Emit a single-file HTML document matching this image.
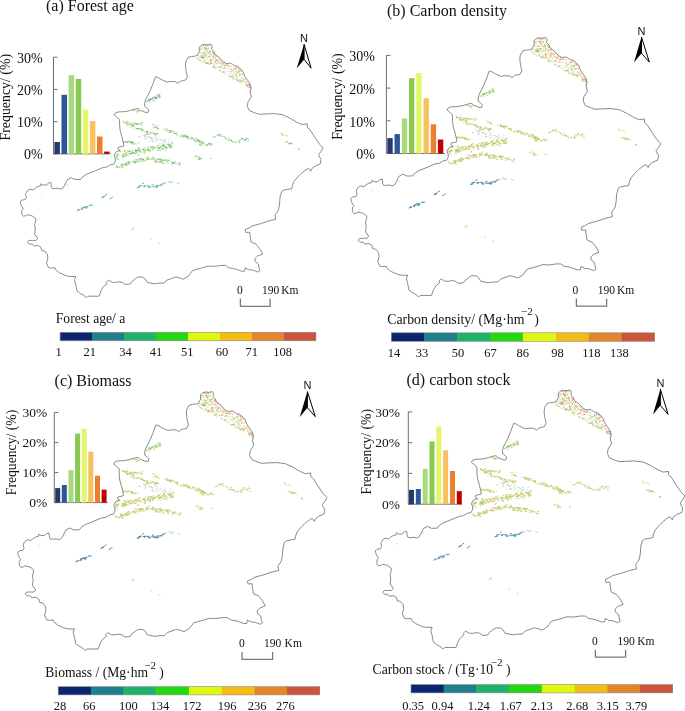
<!DOCTYPE html>
<html><head><meta charset="utf-8"><style>
html,body{margin:0;padding:0;background:#fff;}
svg{display:block;will-change:transform;}
text{font-family:"Liberation Serif",serif;fill:#111;}
</style></head><body>
<svg width="685" height="711" viewBox="0 0 685 711">
<rect width="685" height="711" fill="#fff"/>
<defs><path id="ol" d="M199.3 47.3 L201.6 45.0 L204.5 44.4 L207.4 44.8 L210.9 44.1 L212.1 46.2 L211.5 49.1 L213.9 51.4 L215.0 54.4 L217.4 56.1 L220.3 58.4 L223.2 61.9 L226.7 63.7 L230.2 63.1 L232.6 64.3 L234.9 66.0 L237.2 66.0 L240.7 68.9 L243.1 71.9 L244.8 76.5 L247.7 80.6 L250.1 84.1 L251.2 88.2 L250.1 91.7 L251.4 96.8 L248.0 101.9 L247.3 106.3 L249.5 110.7 L254.6 112.8 L259.0 114.3 L266.3 113.9 L273.6 113.6 L282.3 114.6 L289.6 118.0 L296.9 122.3 L302.0 124.5 L307.2 123.8 L307.4 127.4 L310.0 129.6 L314.5 136.9 L319.6 144.2 L323.2 147.9 L321.0 151.5 L318.8 154.5 L318.8 155.8 L321.0 159.5 L320.3 163.9 L315.2 166.1 L311.5 169.0 L310.8 171.2 L308.6 168.2 L305.0 170.4 L301.3 173.4 L297.7 177.0 L294.0 181.4 L292.3 185.8 L291.8 188.7 L283.8 190.1 L281.6 191.6 L280.1 196.7 L279.4 205.5 L278.2 210.6 L275.0 215.0 L275.8 219.3 L269.2 220.8 L260.4 223.7 L252.4 225.9 L248.8 228.1 L245.2 229.6 L245.9 232.5 L249.6 232.2 L250.3 236.9 L251.0 242.0 L256.1 244.2 L259.8 248.6 L262.7 254.1 L257.6 255.9 L254.7 258.8 L255.4 261.7 L258.3 263.9 L259.1 268.3 L259.8 270.5 L257.6 272.0 L253.2 270.2 L248.8 269.7 L245.2 267.8 L244.5 271.2 L241.5 271.2 L235.7 269.0 L228.4 267.6 L225.5 265.4 L221.1 265.4 L213.8 266.4 L208.0 266.1 L200.7 268.3 L192.6 270.5 L190.4 273.4 L188.2 276.3 L183.1 279.2 L179.5 277.8 L175.8 277.0 L174.9 277.2 L166.9 280.1 L163.9 283.1 L159.6 283.1 L154.5 283.8 L147.2 282.3 L145.0 278.7 L142.8 277.2 L138.4 276.9 L135.5 278.7 L131.8 281.6 L130.4 283.8 L125.3 284.5 L122.3 282.3 L118.7 281.6 L116.5 282.3 L112.1 282.3 L108.5 280.1 L106.3 282.3 L107.0 283.8 L103.4 286.7 L101.2 290.4 L99.0 296.2 L93.1 296.2 L88.0 296.2 L86.6 297.7 L82.9 294.7 L80.0 293.3 L77.0 291.0 L75.8 284.7 L74.5 279.6 L75.8 276.5 L70.7 276.5 L66.3 275.8 L59.3 272.7 L55.5 269.5 L54.9 267.6 L51.7 268.2 L48.5 267.6 L46.6 263.2 L47.9 258.1 L47.3 254.3 L44.7 251.1 L41.6 250.5 L40.9 247.3 L37.8 245.4 L34.0 246.1 L32.7 244.4 L28.9 243.9 L27.4 242.3 L28.9 240.4 L32.7 240.4 L35.9 240.4 L37.8 238.5 L34.6 234.0 L35.3 229.0 L34.6 225.0 L36.0 218.9 L33.4 216.7 L30.8 215.4 L27.3 214.8 L25.5 215.8 L23.3 216.2 L21.6 214.0 L22.0 210.1 L23.3 208.4 L22.0 207.0 L20.7 204.4 L20.3 201.3 L22.0 200.0 L25.1 199.6 L26.4 197.4 L25.5 194.3 L26.4 192.2 L28.1 190.0 L30.3 189.1 L33.0 190.0 L35.1 188.2 L37.8 186.5 L40.4 186.0 L40.8 183.8 L43.0 185.1 L46.1 185.1 L48.7 183.0 L50.9 182.5 L51.3 186.5 L52.2 188.6 L55.3 188.6 L57.9 188.2 L60.5 189.1 L62.7 188.2 L64.9 185.1 L65.8 182.5 L67.6 179.5 L71.1 177.7 L75.0 179.5 L80.7 179.4 L82.2 177.2 L86.5 174.3 L93.8 171.4 L102.6 167.7 L106.7 167.1 L110.2 164.8 L113.7 164.2 L115.4 161.3 L115.4 158.4 L114.3 155.4 L114.9 153.7 L116.6 151.4 L120.1 150.5 L117.8 148.7 L118.4 147.3 L123.6 146.1 L123.7 144.9 L123.1 141.4 L121.9 136.7 L120.2 130.9 L119.6 125.0 L119.6 119.8 L116.7 116.9 L114.3 115.1 L114.9 113.4 L117.8 112.0 L124.9 111.6 L130.7 110.4 L135.4 108.9 L138.3 108.5 L140.3 110.5 L142.9 111.4 L146.4 112.7 L148.1 112.3 L148.6 109.7 L146.8 107.9 L144.6 106.2 L144.6 103.5 L145.5 100.0 L147.3 96.5 L149.9 91.3 L152.5 85.1 L154.7 79.0 L155.6 76.8 L157.8 77.3 L160.4 79.0 L163.9 80.8 L167.4 82.1 L170.9 81.5 L175.3 81.6 L177.9 83.4 L180.5 81.2 L182.7 80.8 L185.8 79.9 L187.4 76.4 L186.7 73.8 L185.8 69.4 L185.4 65.0 L185.8 61.4 L188.2 57.3 L191.7 56.5 L195.2 56.1 L197.5 54.9 L199.3 51.4 Z"/><clipPath id="clipol"><use href="#ol"/></clipPath><path id="sT0" d="M124.6 122.7l0.9 0.2M134.1 123.0l0.9 0.1M134.5 123.9l1.7 0.2M138.4 123.8l1.8 -0.4M126.9 125.1l1.4 0.6M130.1 127.3l1.0 0.4M135.8 128.3l2.2 0.9M146.0 131.2l1.5 0.6M147.1 132.5l1.4 0.5M139.7 129.4l2.1 0.8M154.0 133.0l2.0 0.5M148.2 134.0l2.0 0.6M156.2 133.7l1.6 0.4M149.4 131.6l0.8 0.2M163.4 129.4l2.0 0.7M173.0 132.6l1.4 0.5M180.2 136.6l1.0 0.3M175.5 132.9l1.4 0.5M174.6 133.2l1.8 0.6M182.6 136.1l2.1 0.7M176.1 132.7l1.3 0.4M174.1 133.2l1.3 0.4M180.9 134.8l2.3 0.7M187.0 136.2l2.2 0.6M193.2 139.6l1.2 0.3M200.3 141.1l1.4 0.7M200.7 140.8l1.9 1.0M197.9 141.0l1.4 0.7M195.9 139.8l1.8 0.9M196.9 140.2l1.9 1.0M202.0 143.4l1.4 0.7M206.4 144.9l1.4 -0.2M193.4 140.4l1.8 1.1M197.4 139.4l1.6 1.0M200.2 144.9l1.0 0.6M199.4 144.5l1.2 0.7M151.9 124.5l1.8 0.8M154.3 124.5l0.9 0.4M155.0 126.4l1.0 0.4M157.4 127.7l1.0 1.3M214.6 137.3l1.7 -1.1M228.2 137.5l1.6 0.8M234.6 142.4l1.0 0.4M239.3 140.0l1.5 -0.6M238.7 143.0l1.7 -0.6M247.9 139.4l0.8 0.1M126.9 141.6l1.2 0.1M128.8 142.0l1.8 0.1M131.6 143.4l1.8 0.4M130.7 143.7l2.0 0.4M122.9 154.1l2.2 -0.4M115.1 159.0l1.2 -0.2M121.6 155.7l2.2 -0.4M116.2 157.5l2.0 -0.4M116.5 155.6l1.7 -0.3M125.4 153.3l1.6 -0.2M127.9 155.1l1.2 -0.2M126.6 155.0l1.3 -0.2M136.9 152.1l1.0 -0.1M133.4 152.8l1.1 -0.2M127.6 151.4l2.3 -0.4M128.1 151.5l1.4 -0.2M123.7 151.3l2.2 -0.3M142.0 149.6l1.2 -0.3M150.3 150.7l0.9 -0.2M143.1 152.2l1.1 -0.2M144.0 149.4l1.2 -0.3M142.4 149.7l1.7 -0.4M144.1 153.1l1.1 -0.2M143.6 150.9l1.5 -0.3M138.6 151.9l1.5 -0.3M144.4 152.0l1.4 -0.3M149.6 151.2l1.2 -0.3M140.5 152.6l1.2 -0.3M151.8 148.8l2.3 -0.3M151.5 147.8l1.6 -0.2M155.7 147.2l1.1 -0.1M159.7 150.5l1.2 -0.1M157.6 148.6l2.4 -0.3M150.0 146.9l1.8 -0.2M161.7 146.9l1.0 -0.1M160.1 146.1l1.1 -0.1M171.3 147.7l1.2 -0.1M167.9 145.2l1.3 -0.1M164.0 146.4l0.8 -0.1M168.8 144.8l2.0 -0.2M163.7 146.7l0.9 -0.1M282.6 134.7l1.1 0.8M286.5 135.3l1.5 1.0M284.7 141.8l1.4 0.4M290.5 143.3l2.0 0.5M289.2 143.1l2.2 0.5M298.0 149.4l1.8 -0.3M196.2 156.0l1.3 0.3M194.3 156.5l1.6 0.4M198.3 156.7l1.9 0.6M132.9 109.1l1.7 0.2M132.7 110.6l1.5 0.2M138.6 110.9l1.1 -0.1M118.8 166.8l0.8 -0.3M117.9 167.2l1.4 -0.5M132.4 161.6l2.0 -0.7M133.6 161.8l1.2 -0.3M142.7 161.4l2.1 -0.5M135.7 160.1l1.9 -0.5M137.2 162.0l0.9 -0.2M139.2 158.9l2.1 -0.5M153.4 158.9l1.6 0.3M146.9 159.2l1.7 0.3M156.4 161.6l0.9 0.2M162.2 162.9l2.2 0.4M165.5 159.9l2.3 0.4M160.8 160.1l2.2 0.4M166.9 160.4l2.0 0.4"/><path id="sT1" d="M122.7 121.2l1.5 0.4M125.4 122.3l1.1 0.3M132.7 122.9l2.2 0.3M134.7 123.3l1.0 0.1M141.3 124.2l1.8 -0.4M129.2 123.0l1.1 0.4M126.2 124.6l1.0 0.4M127.2 123.9l2.0 0.8M133.8 126.9l1.0 0.4M129.8 124.5l0.9 0.4M132.3 125.6l0.9 0.4M140.9 129.7l2.2 0.8M145.5 133.1l2.0 0.7M154.5 135.3l1.5 0.4M155.8 133.4l2.2 0.6M167.2 130.8l1.4 0.5M166.5 129.9l1.2 0.4M168.2 130.9l1.6 0.6M178.8 135.9l2.1 0.7M189.6 139.3l1.2 0.3M185.7 138.0l2.0 0.6M186.2 137.5l1.3 0.4M188.3 138.2l1.1 0.3M186.7 137.8l1.0 0.3M186.1 137.1l1.2 0.4M205.1 144.5l1.7 0.8M201.7 145.0l1.5 0.7M197.4 138.8l1.9 1.2M195.4 138.8l1.2 0.7M194.2 140.0l1.5 1.0M200.3 142.9l1.4 0.9M198.4 142.5l1.0 0.6M200.6 143.7l2.0 1.3M199.1 142.0l1.1 0.7M155.3 126.8l1.1 1.4M215.5 136.0l0.7 -0.5M214.1 137.6l1.1 -0.7M217.3 135.4l0.8 -0.5M223.7 136.1l1.4 0.5M217.8 134.8l2.1 0.8M226.5 139.7l1.5 0.7M228.5 138.0l0.8 0.4M232.3 141.8l1.3 0.5M237.6 141.8l1.3 -0.5M240.5 140.4l1.1 -0.4M247.0 141.6l1.2 0.1M125.1 141.4l2.0 0.1M123.3 141.5l2.3 0.2M126.3 142.5l1.5 0.1M128.7 142.0l1.9 0.1M133.7 144.3l1.1 0.2M135.2 143.6l1.4 0.3M115.5 155.3l2.3 -0.4M116.0 156.7l1.3 -0.3M124.1 153.7l1.0 -0.2M123.7 154.2l2.1 -0.4M113.8 154.0l2.2 -0.4M116.1 155.5l1.4 -0.3M123.2 155.6l2.1 -0.4M123.3 154.0l1.8 -0.3M123.9 155.0l1.5 -0.3M123.4 154.0l2.3 -0.4M124.1 155.5l1.1 -0.2M117.2 153.0l0.9 -0.2M137.9 154.7l1.0 -0.1M124.4 150.6l1.3 -0.2M126.0 155.1l1.7 -0.3M131.9 151.5l1.4 -0.2M129.3 153.8l1.1 -0.2M147.2 147.1l1.1 -0.3M139.5 148.4l1.4 -0.3M146.5 150.2l2.2 -0.5M148.2 148.0l1.0 -0.2M144.6 147.6l1.3 -0.3M144.7 152.4l0.9 -0.2M146.9 148.4l2.2 -0.5M144.0 149.9l1.1 -0.2M150.7 147.2l1.0 -0.1M158.2 147.7l1.4 -0.2M151.6 148.4l1.4 -0.2M152.9 146.3l1.1 -0.1M160.9 147.6l1.2 -0.2M169.5 144.1l1.5 -0.1M164.5 150.0l2.2 -0.2M166.4 144.3l2.1 -0.2M162.8 146.3l0.9 -0.1M162.3 144.1l2.2 -0.2M170.5 147.3l2.1 -0.2M284.8 134.5l1.0 0.7M197.0 158.2l0.8 0.2M209.8 158.3l2.0 0.3M122.6 168.3l1.4 -0.5M120.3 164.9l1.4 -0.5M120.2 164.4l1.4 -0.5M128.8 164.0l1.6 -0.5M132.7 161.8l1.6 -0.6M128.0 163.8l1.1 -0.4M127.8 161.8l1.6 -0.6M126.6 165.6l1.7 -0.6M139.1 159.4l1.3 -0.3M145.6 157.6l2.1 -0.5M145.6 159.2l2.2 -0.5M140.4 160.2l2.1 -0.5M150.9 159.3l2.1 0.4M151.6 157.6l2.0 0.3M152.9 159.1l2.3 0.4M154.6 161.0l2.0 0.4M155.6 158.7l1.7 0.3M159.4 159.2l2.3 0.4M171.0 162.0l2.2 0.4M159.7 159.1l1.2 0.2"/><path id="sT2" d="M125.8 123.3l1.3 0.3M126.4 121.9l2.3 0.5M122.9 122.0l2.0 0.5M131.6 125.9l2.0 0.3M136.3 124.0l1.9 -0.4M130.1 123.9l1.4 0.5M132.7 125.1l1.7 0.7M136.3 128.4l1.9 0.8M141.7 129.7l1.1 0.4M145.7 131.3l2.2 0.8M146.2 131.6l1.8 0.7M138.4 128.3l1.8 0.7M146.4 134.1l1.3 0.5M153.1 133.6l1.8 0.5M150.3 132.8l2.0 0.5M155.9 133.3l2.2 0.6M169.0 132.0l2.1 0.8M168.9 130.6l1.6 0.5M171.7 131.0l1.9 0.7M170.1 130.5l1.8 0.6M184.2 134.9l2.2 0.7M182.7 135.7l2.2 0.7M174.9 133.3l2.0 0.6M191.0 137.5l2.2 0.6M190.9 138.6l0.8 0.2M188.3 138.2l0.8 0.2M199.2 142.0l1.9 1.0M202.8 143.0l1.4 0.7M202.6 142.2l2.1 1.0M208.9 144.7l1.6 -0.2M209.3 143.8l2.2 -0.3M207.9 143.5l1.3 -0.2M198.4 140.0l1.8 1.1M202.2 141.8l0.8 0.5M157.0 127.6l1.5 1.8M156.2 126.7l1.4 1.8M216.9 135.5l1.9 -1.2M213.0 137.3l1.1 -0.7M219.5 134.5l1.1 0.4M225.3 137.9l0.8 0.4M224.8 137.9l1.8 0.9M235.2 141.7l1.2 0.5M229.9 140.0l2.1 0.8M230.8 140.0l0.9 0.3M241.2 138.5l1.9 0.2M243.5 140.1l2.3 0.2M242.2 138.2l1.0 0.1M245.6 138.5l2.0 0.2M122.7 142.5l1.7 0.1M128.6 141.3l1.2 0.1M132.4 142.2l1.4 0.3M131.4 142.0l1.4 0.3M130.8 142.0l2.3 0.5M122.2 156.6l1.4 -0.3M117.0 155.0l2.0 -0.4M119.7 151.3l1.3 -0.3M132.2 152.8l1.9 -0.3M134.5 153.5l1.0 -0.2M135.0 149.9l1.3 -0.2M130.3 154.1l2.2 -0.3M135.1 150.7l2.0 -0.3M126.2 152.5l1.1 -0.2M134.7 153.4l1.7 -0.3M135.0 151.3l2.4 -0.4M124.4 156.3l2.2 -0.3M138.1 150.7l1.7 -0.4M142.6 149.4l1.5 -0.3M137.1 150.1l1.7 -0.4M146.7 150.1l2.0 -0.5M147.8 150.5l2.2 -0.5M158.2 148.4l2.0 -0.3M161.7 145.7l2.0 -0.3M153.6 148.0l2.2 -0.3M159.5 148.0l1.9 -0.2M164.9 147.8l0.9 -0.1M167.6 144.4l1.5 -0.1M169.3 146.6l2.3 -0.2M168.1 145.7l2.4 -0.2M164.0 146.4l2.3 -0.2M162.6 145.0l1.7 -0.1M286.9 141.7l1.1 0.3M288.3 143.6l1.1 0.3M289.6 143.4l1.6 0.4M198.1 159.1l2.1 0.6M200.3 158.4l1.8 0.5M198.5 157.5l2.1 0.6M137.0 110.9l1.3 -0.1M115.8 167.4l1.9 -0.7M121.0 165.2l2.1 -0.8M121.8 165.4l1.8 -0.7M120.9 166.5l1.4 -0.5M128.5 162.3l1.5 -0.5M124.7 164.0l2.2 -0.8M125.8 163.6l1.9 -0.7M125.4 165.2l1.7 -0.6M137.3 160.1l1.5 -0.4M134.3 163.0l2.0 -0.5M141.8 160.1l2.3 -0.6M134.7 162.2l2.0 -0.5M138.6 161.4l1.0 -0.3M141.4 159.3l2.0 -0.5M139.5 159.0l2.1 -0.5M154.8 160.6l2.3 0.4M152.7 157.1l1.2 0.2M157.3 159.3l1.4 0.2M147.6 157.9l1.6 0.3M158.2 158.9l1.8 0.3M167.5 163.2l1.1 0.2M174.4 161.2l0.9 0.2M171.5 162.2l2.3 0.4M164.1 159.9l2.3 0.4M173.4 163.0l1.8 0.3M166.7 160.6l1.4 0.3M178.7 162.8l2.1 0.4M171.1 164.2l1.2 0.2"/><path id="sT3" d="M128.0 124.2l1.2 0.3M132.5 123.9l1.3 0.2M134.7 123.7l1.7 0.2M141.3 122.7l1.7 -0.4M140.0 124.8l1.5 -0.3M136.5 123.8l1.0 -0.2M136.4 124.5l2.0 -0.5M129.7 123.6l1.1 0.4M131.0 125.2l1.7 0.7M140.7 128.9l1.9 0.7M142.2 129.1l0.8 0.3M140.6 129.1l1.1 0.4M154.9 134.1l1.2 0.3M168.9 132.2l1.0 0.4M165.8 128.6l1.6 0.6M185.2 136.0l1.2 0.4M176.2 134.6l1.5 0.5M185.2 136.3l2.0 0.6M182.0 136.7l1.4 0.5M192.7 138.3l1.4 0.4M186.2 136.4l2.1 0.6M198.5 140.6l0.9 0.5M207.1 144.8l1.2 -0.2M206.4 145.7l1.2 -0.2M210.9 145.2l1.8 -0.2M195.6 138.2l1.4 0.9M195.5 141.1l1.8 1.1M197.5 140.7l0.7 0.5M199.0 144.5l1.7 1.1M153.4 127.3l0.8 0.3M153.7 127.2l1.2 0.5M155.1 126.3l1.4 0.6M157.9 124.9l0.6 0.8M223.3 136.2l1.2 0.4M219.7 134.8l0.8 0.3M220.2 135.7l2.2 0.8M228.2 139.6l1.9 0.9M232.3 141.1l1.1 0.4M231.3 140.8l1.1 0.4M238.3 141.4l2.1 -0.8M248.2 141.3l0.8 0.1M244.7 139.3l1.9 0.2M126.4 142.2l1.9 0.1M125.0 142.1l1.2 0.1M133.2 142.8l1.2 0.3M138.3 143.1l1.1 0.2M130.5 142.4l1.4 0.3M122.4 158.1l1.3 -0.3M117.3 159.4l1.9 -0.4M136.2 153.1l0.9 -0.1M131.5 150.5l1.1 -0.2M128.7 151.4l2.4 -0.4M130.7 153.0l1.8 -0.3M133.0 153.3l0.9 -0.1M129.5 153.6l2.2 -0.3M143.7 150.2l2.2 -0.5M137.6 148.4l2.3 -0.5M139.3 151.1l2.3 -0.5M138.0 149.8l1.0 -0.2M157.5 145.4l1.7 -0.2M157.2 150.4l2.2 -0.3M157.5 146.9l0.8 -0.1M152.2 149.5l1.0 -0.1M151.2 148.0l1.8 -0.2M156.8 146.3l1.5 -0.2M161.5 149.2l2.0 -0.2M152.3 146.7l1.8 -0.2M162.4 148.6l1.5 -0.1M165.4 147.6l2.0 -0.2M169.9 145.1l1.8 -0.1M169.1 147.7l2.0 -0.2M165.6 148.1l2.2 -0.2M281.2 134.0l0.9 0.7M282.3 134.5l1.2 0.9M280.9 132.8l1.6 1.1M195.6 155.7l0.9 0.2M137.4 111.3l2.0 -0.2M117.0 167.6l1.1 -0.4M123.2 164.9l1.4 -0.5M121.3 167.7l1.4 -0.5M125.5 164.8l1.9 -0.7M127.1 162.5l2.2 -0.8M124.5 165.5l1.4 -0.5M128.2 163.5l1.2 -0.4M145.3 160.5l1.3 -0.3M139.8 161.6l1.1 -0.3M142.6 159.7l1.2 -0.3M133.3 162.1l2.1 -0.5M158.4 161.7l1.8 0.3M147.2 159.1l1.7 0.3M149.7 158.9l1.5 0.3M154.4 162.0l2.0 0.4M155.3 160.1l1.5 0.3M172.3 163.1l1.4 0.2M160.1 161.2l1.7 0.3M159.7 162.0l1.7 0.3M178.7 164.8l1.5 0.3M161.7 162.7l1.2 0.2M174.1 163.2l1.1 0.2M159.9 160.8l2.1 0.4M175.9 163.3l0.9 0.2M162.0 160.3l2.0 0.4M178.2 164.0l1.2 0.2M160.3 159.1l2.3 0.4M173.1 163.3l1.7 0.3M167.7 160.0l2.2 0.4"/><path id="sT4" d="M123.0 121.5l0.9 0.2M127.1 120.5l0.8 0.2M123.3 122.1l1.7 0.4M129.7 124.0l1.1 0.2M134.0 123.1l1.7 0.2M130.2 123.0l1.9 0.3M140.6 125.1l1.2 -0.3M127.5 124.2l2.0 0.8M132.1 127.5l2.0 0.8M126.3 123.9l1.4 0.5M131.4 123.2l1.8 0.7M133.4 128.7l1.9 0.7M127.2 124.4l0.8 0.3M128.9 125.3l0.8 0.3M143.5 130.5l1.0 0.4M142.6 131.4l2.2 0.8M142.9 130.6l1.9 0.7M155.4 133.6l2.0 0.5M154.0 134.3l1.0 0.3M148.2 133.5l2.0 0.5M151.4 131.9l2.1 0.6M165.8 130.8l1.6 0.6M166.1 129.8l2.1 0.8M166.9 130.7l1.5 0.5M169.2 131.4l1.6 0.6M176.0 133.4l1.0 0.3M176.1 134.2l1.2 0.4M188.5 137.8l1.0 0.3M191.7 138.3l0.9 0.2M201.6 142.1l0.9 0.4M199.8 141.4l1.6 0.8M203.0 143.0l1.3 0.6M203.7 143.4l1.4 0.7M200.6 142.0l1.5 0.9M220.5 133.8l1.3 0.5M228.8 139.8l1.2 0.6M235.7 141.7l0.9 -0.3M237.8 141.9l1.4 -0.5M135.5 143.7l0.8 0.2M135.1 143.6l1.9 0.4M131.9 143.4l1.1 0.2M118.0 155.4l1.3 -0.3M122.7 155.5l1.5 -0.3M122.2 154.4l0.8 -0.2M117.2 154.4l1.8 -0.3M117.9 154.9l1.6 -0.3M121.9 153.9l2.0 -0.4M128.1 153.2l2.3 -0.4M133.3 151.0l1.4 -0.2M137.1 156.0l1.4 -0.2M127.4 151.1l1.1 -0.2M124.3 152.1l1.3 -0.2M125.2 154.9l1.7 -0.3M126.4 152.7l1.2 -0.2M130.2 151.1l1.0 -0.2M140.1 151.2l1.0 -0.2M149.3 148.6l1.4 -0.3M148.7 146.6l1.0 -0.2M137.5 148.9l0.8 -0.2M143.4 150.5l2.0 -0.5M150.0 149.4l1.0 -0.2M148.7 151.9l2.1 -0.5M144.7 153.7l1.0 -0.2M151.8 150.8l1.4 -0.2M160.0 147.3l1.2 -0.2M157.1 145.9l2.2 -0.3M152.1 149.2l1.2 -0.1M157.6 146.5l1.5 -0.2M153.2 148.7l1.6 -0.2M155.2 147.7l1.2 -0.1M150.9 148.6l1.7 -0.2M169.5 148.0l1.2 -0.1M172.1 146.1l1.1 -0.1M169.7 144.8l1.3 -0.1M163.7 148.4l1.0 -0.1M171.6 147.1l1.1 -0.1M286.0 142.3l1.9 0.5M287.7 143.9l1.0 0.3M292.0 143.8l1.5 0.4M289.0 142.3l2.1 0.5M297.7 148.9l2.0 -0.4M135.9 110.5l1.3 0.1M134.7 110.8l2.1 0.2M136.4 112.4l2.3 -0.2M114.9 166.1l1.9 -0.7M118.9 167.8l1.5 -0.6M120.5 166.6l1.1 -0.4M122.0 165.7l1.8 -0.7M121.4 167.1l1.7 -0.6M122.2 165.7l1.3 -0.5M129.0 163.5l1.8 -0.6M125.8 164.2l1.9 -0.7M127.9 164.9l1.4 -0.5M131.5 162.5l2.0 -0.7M140.0 159.9l1.0 -0.2M145.2 158.9l1.2 -0.3M134.5 159.4l2.1 -0.5M140.9 158.8l1.2 -0.3M140.4 161.4l1.0 -0.2M138.5 160.1l1.4 -0.4M157.6 161.9l1.8 0.3M151.1 158.5l1.7 0.3M154.4 160.4l2.0 0.4M148.3 156.0l1.3 0.2M175.8 163.6l1.2 0.2M165.6 160.0l1.5 0.3M177.4 165.0l1.5 0.3M162.5 162.0l0.8 0.1M159.0 160.1l2.3 0.4M165.2 161.3l2.1 0.4M169.4 161.4l0.9 0.2M166.6 160.5l1.9 0.3M166.4 162.8l1.9 0.3"/><path id="sL0" d="M159.6 139.3l1.9 0.6M163.4 140.8l0.9 0.3M168.0 141.7l1.1 0.4M172.4 142.7l1.1 0.3M168.4 181.5l1.5 -0.4M169.6 182.5l1.3 0.2M170.8 182.7l1.1 0.2"/><path id="sL1" d="M144.7 135.6l1.7 0.4M138.4 136.9l1.7 0.3M143.3 138.6l1.6 0.3M145.1 135.8l1.3 0.3M143.9 135.5l1.5 0.3M150.1 137.7l2.1 0.6M155.3 141.4l2.1 0.6M152.8 137.2l1.1 0.3M155.2 138.8l1.2 0.4M161.6 140.8l1.6 0.5M170.8 142.4l0.9 0.3M171.0 143.2l2.0 0.6M168.1 182.2l1.3 -0.4M164.1 183.7l2.3 -0.6M171.6 181.7l1.4 0.2"/><path id="sL2" d="M149.4 136.8l1.6 0.3M144.1 136.2l1.3 0.3M144.8 138.1l1.6 0.3M151.0 138.2l1.7 0.5M151.5 140.4l2.1 0.6M164.8 141.8l0.8 0.3M164.0 139.4l1.5 0.5M164.9 182.7l1.6 -0.5M176.8 182.9l1.0 0.3"/><path id="sL3" d="M147.2 136.8l2.3 0.5M141.4 133.6l0.8 0.2M149.1 137.1l0.9 0.2M142.7 135.0l1.4 0.3M157.7 140.3l1.0 0.3M154.7 135.7l1.0 0.3M148.8 141.1l1.4 0.4M168.9 139.1l1.6 0.5M171.7 141.6l1.4 0.4M164.5 142.2l1.2 0.4"/><path id="sL4" d="M138.7 136.7l2.1 0.4M144.5 134.4l2.3 0.5M151.7 141.1l1.6 0.5M155.9 137.1l1.7 0.5M157.7 139.6l0.8 0.2M155.2 139.1l1.5 0.5M165.1 141.7l1.0 0.3M161.6 141.5l0.9 0.3M163.8 141.9l1.0 0.3M171.3 143.4l1.5 0.4M159.3 143.2l1.2 0.4M170.8 181.7l1.8 0.3M177.7 183.4l2.1 0.5"/><path id="sK0" d="M136.8 187.8l1.6 -0.5M142.9 186.2l2.8 -0.6M139.6 186.0l2.3 -0.5M148.1 187.0l1.4 0.3M83.2 207.5l2.5 -1.0M80.7 209.4l2.4 -1.0M78.9 210.3l1.4 -0.6M81.4 208.2l2.2 -0.9M86.6 207.0l1.2 -0.4M111.8 197.3l1.1 -0.5M109.6 198.8l2.0 -0.9"/><path id="sK1" d="M137.7 187.7l2.5 -0.7M138.1 186.3l2.2 -0.6M142.1 183.6l1.8 -0.4M148.2 187.1l1.8 0.4M148.5 186.8l2.1 0.4M155.5 185.7l2.9 -0.4M153.6 186.6l2.2 -0.3M160.7 186.0l1.5 -0.8M162.7 184.3l1.2 -0.7M76.8 210.9l2.2 -0.9M90.7 205.5l2.2 -0.7M86.5 207.4l1.8 -0.6M103.2 196.7l1.4 -0.8M102.7 197.5l2.5 -1.5M102.3 197.4l2.1 -1.3"/><path id="sK2" d="M138.4 187.3l1.3 -0.4M144.0 186.4l1.2 -0.2M146.1 185.8l1.4 0.3M147.1 185.8l2.0 0.4M150.9 186.4l2.5 -0.3M155.8 186.9l2.5 -0.3M152.8 186.9l2.8 -0.4M151.8 184.8l2.0 -0.3M161.9 184.0l2.1 -1.1M159.2 185.5l2.0 -1.1M85.6 208.6l1.7 -0.5"/><path id="sK3" d="M144.0 186.6l1.0 -0.2M155.8 187.4l2.2 -0.3M82.0 209.3l1.2 -0.5M77.9 209.7l1.2 -0.5M88.9 205.5l2.1 -0.7M85.8 207.0l1.8 -0.6M101.3 197.9l2.0 -1.2M105.4 195.1l1.7 -1.0"/><path id="sK4" d="M148.3 185.4l1.3 0.3M157.5 185.8l2.8 -0.4M160.6 185.1l2.1 -1.2M84.3 208.1l1.1 -0.4M85.3 207.2l2.3 -0.7M83.7 207.7l2.7 -0.8"/><path id="sI0" d="M146.4 101.8l1.7 -0.9M149.2 100.5l1.4 -0.7M147.9 100.7l1.9 -0.9M154.3 97.1l1.3 -0.5M154.6 97.6l1.0 -0.3M152.4 98.0l1.1 -0.4M152.8 100.9l1.8 -0.6M159.0 95.6l1.0 -0.3"/><path id="sI1" d="M150.3 99.0l1.2 -0.6M150.5 99.9l2.1 -1.0M149.6 100.1l0.9 -0.5M152.1 98.7l1.9 -0.7M156.4 97.7l1.1 -0.4M158.8 97.8l1.9 -0.7M158.0 96.7l2.2 -0.8"/><path id="sI2" d="M147.0 101.5l1.8 -0.9M154.9 97.7l1.3 -0.5M156.5 98.6l1.3 -0.5M156.9 95.0l2.2 -0.8M157.4 95.3l1.6 -0.6"/><path id="sI3" d="M150.5 99.1l0.8 -0.4M148.5 99.5l1.5 -0.7M155.0 98.9l1.6 -0.6M155.0 98.3l1.7 -0.6"/><path id="sI4" d="M146.4 101.9l1.6 -0.8M148.9 102.7l1.7 -0.8M154.8 96.4l2.0 -0.7M158.7 96.8l1.6 -0.6M158.6 94.6l1.8 -0.6"/><path id="sA0" d="M241.1 71.1l0.6 0.6M216.5 60.4l0.1 1.2M242.7 80.1l1.2 0.2M213.0 67.2l1.3 0.5M236.7 80.0l1.0 0.5M203.1 52.6l0.7 0.5M222.8 62.8l0.9 1.2M218.7 67.6l1.5 -0.6M219.9 66.9l1.8 0.4M238.7 71.4l-0.2 1.3M238.4 70.2l0.9 1.4M241.8 80.2l0.0 1.2M246.6 85.3l0.5 1.7M237.6 80.8l1.5 0.6M220.1 59.7l0.6 0.8M247.5 84.8l0.5 1.4M209.5 53.2l0.9 1.8M239.8 69.0l-0.1 0.7M222.8 63.9l0.5 0.6M213.6 53.3l0.9 0.3M208.6 62.8l0.8 1.8M226.7 65.7l1.5 -0.5M247.5 84.5l1.9 0.2M200.8 55.7l1.7 0.5M204.8 48.2l2.0 0.1M231.7 76.7l1.8 1.0M239.0 81.0l0.2 1.0M209.1 52.0l1.0 0.0M218.2 59.4l1.0 1.8M212.8 51.8l0.3 1.7M213.1 53.6l1.9 -0.5M243.4 78.7l1.3 1.3M224.5 65.5l1.8 0.3M220.5 62.6l0.4 1.1M221.1 64.4l1.5 -1.2M209.9 63.5l1.1 0.9M199.7 47.6l0.5 0.8M203.9 48.0l1.2 0.3M210.6 59.1l-0.3 1.8M203.4 53.1l1.5 -0.1M218.4 62.0l1.5 1.4M210.1 60.8l0.8 1.8M203.1 51.6l-0.1 0.9M241.8 74.1l0.3 0.7M207.0 62.4l0.9 1.4"/><path id="sA1" d="M243.0 81.1l0.5 0.5M199.0 59.2l0.8 1.3M215.4 65.5l-0.6 1.4M203.8 56.7l1.0 0.7M199.9 51.7l0.8 0.4M208.5 57.2l1.1 -0.8M210.0 52.7l0.6 0.5M205.9 49.2l0.5 1.9M223.5 72.4l1.4 0.8M215.2 60.0l0.8 0.6M238.3 72.7l1.1 0.8M197.9 57.8l0.2 1.9M210.7 55.2l1.4 0.4M210.5 60.0l1.5 1.3M214.2 61.7l0.8 0.5M205.7 62.9l0.7 0.8M238.1 77.0l0.5 0.6M217.5 63.3l0.8 0.2M240.2 81.3l1.8 0.4M199.3 56.8l1.4 0.8M231.9 70.5l1.9 -0.4M235.2 78.7l0.4 0.7M240.2 80.7l1.0 0.7M211.9 61.9l-0.6 0.8M212.0 51.2l1.1 1.0M236.3 75.9l0.8 -0.2M241.4 80.0l0.7 1.7M202.7 56.7l0.3 1.4M222.8 70.9l1.3 1.7M233.0 76.5l-0.5 1.3M200.7 49.0l0.3 1.3M196.9 56.1l1.9 -0.7M240.2 81.5l1.5 0.7M241.7 83.3l0.6 0.6M237.0 79.5l1.4 1.4M230.9 68.4l0.3 2.0M208.9 56.1l-0.1 1.0M239.3 74.9l0.3 1.1M215.0 68.5l0.8 0.3M206.7 62.2l1.2 0.4M204.2 55.0l1.1 0.7M248.1 83.6l0.3 0.8M204.8 45.2l0.7 0.2M221.9 72.3l1.6 0.2M235.8 70.7l1.3 1.5M212.6 63.3l0.7 0.2M220.1 69.6l0.2 1.7M202.9 55.4l-0.2 0.9M239.3 74.0l0.7 1.3M203.7 60.7l0.8 1.9M199.5 51.9l0.6 0.6M208.2 56.0l0.5 1.2M216.1 66.7l0.9 0.5M235.9 80.2l1.3 -0.3M203.7 52.4l1.6 0.7M201.2 55.9l0.9 1.5M213.1 55.4l1.6 1.4M214.5 61.7l0.2 0.8M215.2 61.0l-0.0 0.9M205.8 46.4l1.7 -1.0M234.2 78.5l1.0 1.0M205.5 52.3l1.3 -0.2M203.8 54.3l0.5 1.0M214.3 64.6l0.9 -0.8M205.3 49.7l-0.0 0.7M214.9 62.6l1.4 -0.2M203.0 54.4l0.7 1.6M236.1 71.3l1.3 1.6M231.5 70.2l1.2 1.2M238.0 80.5l1.7 0.7M227.0 63.6l1.0 1.5M200.5 57.2l0.7 0.5M239.2 79.7l1.2 -0.5M231.1 75.9l2.0 0.3M249.8 89.4l0.3 1.5M208.2 48.4l0.6 1.2M203.2 58.6l1.1 0.4"/><path id="sA2" d="M219.5 70.3l0.4 1.0M203.8 47.4l1.4 0.9M248.6 84.3l1.5 0.9M234.3 68.5l1.3 0.3M223.7 65.1l0.4 0.7M210.0 59.2l0.7 0.8M210.9 62.8l1.0 1.2M224.2 67.1l0.0 0.7M227.2 65.8l1.3 0.2M212.2 56.9l1.6 0.8M206.4 49.0l0.4 0.8M249.4 87.4l1.3 0.7M201.9 57.2l1.9 0.1M213.2 65.0l0.7 0.6M224.2 67.7l1.1 0.5M203.5 56.2l0.4 1.4M228.7 75.7l1.1 1.5M205.1 54.9l2.1 -0.1M240.2 70.8l1.1 -0.1M236.9 66.8l-0.3 1.7M249.8 85.6l-0.0 1.8M230.3 76.5l1.4 -0.1M202.9 44.9l1.5 1.4M214.9 58.1l1.1 1.1M230.0 65.7l1.1 1.2M208.2 52.3l0.4 0.7M205.7 63.1l1.9 0.9M205.6 46.0l1.0 -1.0M246.1 84.7l0.8 0.3M222.7 68.2l0.8 0.9M234.4 68.7l0.6 0.6M236.6 75.0l-0.8 1.4M238.7 67.7l-0.3 1.2M215.5 55.4l0.9 1.6M201.0 57.6l2.0 0.4M209.1 51.4l2.0 0.3M216.0 59.6l1.2 1.1"/><path id="sA3" d="M236.7 75.1l1.1 1.5M201.3 61.4l1.4 1.0M208.7 54.1l1.0 -0.9M209.7 56.8l1.0 1.0M236.6 78.5l1.4 0.1M210.3 56.2l0.3 0.7M224.1 71.8l1.5 -0.1M207.6 53.7l0.8 0.8M212.5 67.1l1.9 -0.2M227.7 65.7l0.9 -0.3M232.3 74.6l1.7 0.0M222.3 72.0l2.1 -0.3M207.3 50.6l0.3 1.4M203.3 55.4l0.7 1.7M206.6 47.8l1.5 1.1M232.0 77.3l1.4 -0.1M209.5 56.3l1.6 1.0M225.6 67.6l0.5 1.2M209.0 54.1l0.8 -0.1M246.4 82.1l1.4 0.8M236.3 73.6l0.2 1.1M205.5 59.2l1.2 0.5M200.2 56.4l2.0 0.5M209.4 61.3l2.0 0.1M217.7 66.8l0.5 1.8M231.5 71.2l1.1 0.1M233.4 72.3l1.2 1.0M206.7 54.7l0.5 0.7M205.0 57.1l2.0 -0.3M234.6 73.3l0.7 0.6M204.6 60.1l0.5 1.9M201.8 49.7l1.0 0.1M240.1 80.2l1.6 1.0M220.6 62.9l1.0 0.3M207.4 62.1l0.9 1.3M228.5 71.6l1.6 0.8M227.6 68.3l1.2 0.5M211.3 60.4l1.0 0.6M239.0 68.5l-0.1 1.1M199.8 54.4l0.7 0.3M230.1 71.2l1.0 1.3M231.1 71.4l0.8 0.5M198.4 55.1l-0.2 0.9M196.1 57.5l0.2 1.1M207.8 61.6l0.8 -0.1M235.5 72.9l1.1 0.8M202.0 54.7l0.5 0.6M212.5 63.8l0.7 0.2M228.9 76.1l1.4 1.0M214.1 66.8l-0.2 0.9M206.6 58.0l1.5 0.2M212.2 66.3l1.1 0.6M197.7 57.7l0.6 0.6M237.0 71.6l0.6 1.9M241.5 81.8l1.0 0.8M227.0 64.2l1.5 0.8M218.6 62.0l0.9 0.4M236.2 76.6l0.6 1.6M217.2 64.0l0.2 1.1M225.4 74.8l0.7 0.5M212.3 66.7l1.4 0.1M204.7 52.6l0.4 0.8M226.8 64.9l0.3 1.1M204.0 62.2l1.6 0.3M247.3 87.0l1.2 0.4M235.2 73.6l0.4 1.7M220.3 65.9l1.0 0.6M201.1 53.4l1.4 -0.3M229.8 68.8l0.4 0.8M248.0 86.3l0.5 1.4M237.1 71.3l0.1 0.9M226.5 70.4l0.7 0.1M234.6 67.7l0.1 0.9"/><path id="sA4" d="M221.3 61.2l0.9 0.8M242.3 74.3l0.9 0.3M199.2 60.2l2.0 0.3M214.5 67.0l0.3 0.9M247.7 84.8l1.5 0.8M216.7 59.7l1.0 -0.8M216.4 63.1l0.0 0.9M207.5 52.3l1.7 0.7M200.5 48.6l0.6 0.5M238.9 72.2l1.1 -0.8M245.7 78.5l-0.9 1.3M245.6 85.6l1.6 0.2M225.2 63.1l-0.0 1.8M208.8 47.3l-0.4 1.4M239.5 74.5l1.9 -0.1M213.5 59.3l0.8 1.2M235.4 67.8l0.7 1.1M205.6 45.0l1.8 0.7M208.2 45.3l1.8 0.9M226.9 73.3l1.2 1.2M244.9 82.5l1.3 1.1M233.6 78.1l-0.7 1.6M204.3 49.0l1.4 0.8M210.6 61.9l0.7 0.7M200.8 47.6l1.9 0.6M212.0 53.9l1.5 0.7M206.7 46.2l0.9 0.4M230.1 73.7l0.9 0.3M214.0 55.8l-0.0 0.8M211.1 60.3l1.4 -1.0M221.0 64.1l1.2 1.7M241.0 77.9l1.9 0.4M238.2 72.3l1.2 -1.1M201.7 45.6l0.7 0.4M244.7 81.4l1.6 0.4M234.7 70.0l1.1 -0.1M206.9 62.4l1.1 1.2M249.6 86.2l0.4 1.3"/></defs>
<g transform=""><g clip-path="url(#clipol)" fill="none" stroke-width="0.9" opacity="0.85"><use href="#sT0" stroke="#7cc84e"/><use href="#sT1" stroke="#a8d878"/><use href="#sT2" stroke="#3aa080"/><use href="#sT3" stroke="#60b860"/><use href="#sT4" stroke="#c8e470"/><use href="#sL0" stroke="#a8bcd8"/><use href="#sL1" stroke="#c0dca8"/><use href="#sL2" stroke="#90b0d0"/><use href="#sL3" stroke="#c8d4e4"/><use href="#sL4" stroke="#a8ccb8"/><use href="#sK0" stroke="#2a8f8c"/><use href="#sK1" stroke="#3aa58a"/><use href="#sK2" stroke="#6db3b0"/><use href="#sK3" stroke="#2f7f9a"/><use href="#sK4" stroke="#58b090"/><use href="#sI0" stroke="#2a7f9a"/><use href="#sI1" stroke="#4aa08a"/><use href="#sI2" stroke="#7cc0a0"/><use href="#sI3" stroke="#3a70a0"/><use href="#sI4" stroke="#8ac870"/><use href="#sA0" stroke="#d88840"/><use href="#sA1" stroke="#9ccc6a"/><use href="#sA2" stroke="#c86838"/><use href="#sA3" stroke="#b8d890"/><use href="#sA4" stroke="#e0a860"/><circle cx="133" cy="228.8" r="1.6" fill="#e8d060" stroke="none" opacity="0.6"/><circle cx="151.4" cy="239.3" r="1.0" fill="#e8d060" stroke="none" opacity="0.6"/><circle cx="159.3" cy="243.3" r="1.0" fill="#e8d060" stroke="none" opacity="0.6"/><circle cx="67.3" cy="184.2" r="1.0" fill="#e8d060" stroke="none" opacity="0.6"/><circle cx="41" cy="194.7" r="0.8" fill="#e8d060" stroke="none" opacity="0.6"/></g></g>
<g transform="translate(330.14,-7.64) scale(1.0232)"><g clip-path="url(#clipol)" fill="none" stroke-width="0.9" opacity="0.85"><use href="#sT0" stroke="#b8d060"/><use href="#sT1" stroke="#98cc58"/><use href="#sT2" stroke="#d8a450"/><use href="#sT3" stroke="#d0d868"/><use href="#sT4" stroke="#a8c050"/><use href="#sL0" stroke="#a8c4e0"/><use href="#sL1" stroke="#c8e0a8"/><use href="#sL2" stroke="#a0c0d8"/><use href="#sL3" stroke="#c4d8ec"/><use href="#sL4" stroke="#b8d8a8"/><use href="#sK0" stroke="#1f5a8a"/><use href="#sK1" stroke="#2a7f9a"/><use href="#sK2" stroke="#3a78a8"/><use href="#sK3" stroke="#1f4f8a"/><use href="#sK4" stroke="#2a8f9c"/><use href="#sI0" stroke="#8ccc4a"/><use href="#sI1" stroke="#5bb04a"/><use href="#sI2" stroke="#c0e070"/><use href="#sI3" stroke="#70c050"/><use href="#sI4" stroke="#a0d060"/><use href="#sA0" stroke="#e09040"/><use href="#sA1" stroke="#9ccc6a"/><use href="#sA2" stroke="#d07038"/><use href="#sA3" stroke="#b8d890"/><use href="#sA4" stroke="#e8b060"/><circle cx="133" cy="228.8" r="1.6" fill="#c0e060" stroke="none" opacity="0.6"/><circle cx="151.4" cy="239.3" r="1.0" fill="#c0e060" stroke="none" opacity="0.6"/><circle cx="159.3" cy="243.3" r="1.0" fill="#c0e060" stroke="none" opacity="0.6"/><circle cx="67.3" cy="184.2" r="1.0" fill="#c0e060" stroke="none" opacity="0.6"/><circle cx="41" cy="194.7" r="0.8" fill="#c0e060" stroke="none" opacity="0.6"/></g></g>
<g transform="translate(-2.92,346.62) scale(1.0209)"><g clip-path="url(#clipol)" fill="none" stroke-width="0.9" opacity="0.85"><use href="#sT0" stroke="#b8d060"/><use href="#sT1" stroke="#98cc58"/><use href="#sT2" stroke="#d8a450"/><use href="#sT3" stroke="#d0d868"/><use href="#sT4" stroke="#a8c050"/><use href="#sL0" stroke="#a8c4e0"/><use href="#sL1" stroke="#c8e0a8"/><use href="#sL2" stroke="#a0c0d8"/><use href="#sL3" stroke="#c4d8ec"/><use href="#sL4" stroke="#b8d8a8"/><use href="#sK0" stroke="#1f3f80"/><use href="#sK1" stroke="#2a8f8c"/><use href="#sK2" stroke="#2a5a9a"/><use href="#sK3" stroke="#1f4f8a"/><use href="#sK4" stroke="#3aa08a"/><use href="#sI0" stroke="#8ccc4a"/><use href="#sI1" stroke="#5bb04a"/><use href="#sI2" stroke="#c0e070"/><use href="#sI3" stroke="#70c050"/><use href="#sI4" stroke="#a0d060"/><use href="#sA0" stroke="#e09040"/><use href="#sA1" stroke="#9ccc6a"/><use href="#sA2" stroke="#d07038"/><use href="#sA3" stroke="#b8d890"/><use href="#sA4" stroke="#e8b060"/><circle cx="133" cy="228.8" r="1.6" fill="#c0e060" stroke="none" opacity="0.6"/><circle cx="151.4" cy="239.3" r="1.0" fill="#c0e060" stroke="none" opacity="0.6"/><circle cx="159.3" cy="243.3" r="1.0" fill="#c0e060" stroke="none" opacity="0.6"/><circle cx="67.3" cy="184.2" r="1.0" fill="#c0e060" stroke="none" opacity="0.6"/><circle cx="41" cy="194.7" r="0.8" fill="#c0e060" stroke="none" opacity="0.6"/></g></g>
<g transform="translate(354.75,344.92) scale(1.0215)"><g clip-path="url(#clipol)" fill="none" stroke-width="0.9" opacity="0.85"><use href="#sT0" stroke="#b8d060"/><use href="#sT1" stroke="#98cc58"/><use href="#sT2" stroke="#d8a450"/><use href="#sT3" stroke="#d0d868"/><use href="#sT4" stroke="#a8c050"/><use href="#sL0" stroke="#a8c4e0"/><use href="#sL1" stroke="#c8e0a8"/><use href="#sL2" stroke="#a0c0d8"/><use href="#sL3" stroke="#c4d8ec"/><use href="#sL4" stroke="#b8d8a8"/><use href="#sK0" stroke="#2a6f9a"/><use href="#sK1" stroke="#2a8f9c"/><use href="#sK2" stroke="#3a80a8"/><use href="#sK3" stroke="#1f6a8a"/><use href="#sK4" stroke="#4a9ab0"/><use href="#sI0" stroke="#8ccc4a"/><use href="#sI1" stroke="#5bb04a"/><use href="#sI2" stroke="#c0e070"/><use href="#sI3" stroke="#70c050"/><use href="#sI4" stroke="#a0d060"/><use href="#sA0" stroke="#e08038"/><use href="#sA1" stroke="#9ccc6a"/><use href="#sA2" stroke="#c86030"/><use href="#sA3" stroke="#b8d890"/><use href="#sA4" stroke="#e0a050"/><circle cx="133" cy="228.8" r="1.6" fill="#c0e060" stroke="none" opacity="0.6"/><circle cx="151.4" cy="239.3" r="1.0" fill="#c0e060" stroke="none" opacity="0.6"/><circle cx="159.3" cy="243.3" r="1.0" fill="#c0e060" stroke="none" opacity="0.6"/><circle cx="67.3" cy="184.2" r="1.0" fill="#c0e060" stroke="none" opacity="0.6"/><circle cx="41" cy="194.7" r="0.8" fill="#c0e060" stroke="none" opacity="0.6"/></g></g>
<use href="#ol" transform="" fill="none" stroke="#707070" stroke-width="0.8" vector-effect="non-scaling-stroke"/>
<use href="#ol" transform="translate(330.14,-7.64) scale(1.0232)" fill="none" stroke="#707070" stroke-width="0.8" vector-effect="non-scaling-stroke"/>
<use href="#ol" transform="translate(-2.92,346.62) scale(1.0209)" fill="none" stroke="#707070" stroke-width="0.8" vector-effect="non-scaling-stroke"/>
<use href="#ol" transform="translate(354.75,344.92) scale(1.0215)" fill="none" stroke="#707070" stroke-width="0.8" vector-effect="non-scaling-stroke"/>
<text x="46" y="11.4" font-size="16">(a) Forest age</text>
<text x="387" y="16.2" font-size="16">(b) Carbon density</text>
<text x="54.6" y="386.3" font-size="16">(c) Biomass</text>
<text x="406.5" y="384.5" font-size="16">(d) carbon stock</text>
<g stroke="#6e6e6e" stroke-width="1" fill="none">
<path d="M53.5 57.2 V153.9 H110.5"/>
<path d="M53.5 57.2 h4"/>
<path d="M53.5 89.4 h4"/>
<path d="M53.5 121.7 h4"/>
<path d="M53.5 153.9 h4"/>
</g>
<rect x="54.4" y="142" width="5.5" height="11.9" fill="#213a6b"/>
<rect x="61.5" y="94.8" width="5.5" height="59.1" fill="#2e5597"/>
<rect x="68.6" y="75" width="5.5" height="78.9" fill="#a9d97e"/>
<rect x="75.7" y="78.9" width="5.5" height="75.0" fill="#8ac94f"/>
<rect x="82.8" y="109.6" width="5.5" height="44.3" fill="#e3f56b"/>
<rect x="89.9" y="121.1" width="5.5" height="32.8" fill="#f6c15e"/>
<rect x="97.0" y="136.5" width="5.5" height="17.4" fill="#ec7e30"/>
<rect x="104.1" y="151.6" width="5.5" height="2.3" fill="#c00000"/>
<text x="42.6" y="62.5" font-size="14" text-anchor="end">30%</text>
<text x="42.6" y="94.7" font-size="14" text-anchor="end">20%</text>
<text x="42.6" y="126.9" font-size="14" text-anchor="end">10%</text>
<text x="42.6" y="159.2" font-size="14" text-anchor="end">0%</text>
<text transform="translate(10.4,97.2) rotate(-90) scale(0.93,1)" font-size="14.9" text-anchor="middle">Frequency/ (%)</text>
<g stroke="#6e6e6e" stroke-width="1" fill="none">
<path d="M386.4 55.4 V153.5 H444.8"/>
<path d="M386.4 55.4 h4"/>
<path d="M386.4 88.1 h4"/>
<path d="M386.4 120.8 h4"/>
<path d="M386.4 153.5 h4"/>
</g>
<rect x="387.3" y="138.1" width="5.4" height="15.4" fill="#213a6b"/>
<rect x="394.5" y="134.1" width="5.4" height="19.4" fill="#2e5597"/>
<rect x="401.8" y="118.5" width="5.4" height="35.0" fill="#a9d97e"/>
<rect x="409.0" y="78.2" width="5.4" height="75.3" fill="#8ac94f"/>
<rect x="416.2" y="72.9" width="5.4" height="80.6" fill="#e3f56b"/>
<rect x="423.5" y="98.2" width="5.4" height="55.3" fill="#f6c15e"/>
<rect x="430.7" y="124.3" width="5.4" height="29.2" fill="#ec7e30"/>
<rect x="437.9" y="139.5" width="5.4" height="14.0" fill="#c00000"/>
<text x="374.8" y="61.2" font-size="14" text-anchor="end">30%</text>
<text x="374.8" y="93.9" font-size="14" text-anchor="end">20%</text>
<text x="374.8" y="126.6" font-size="14" text-anchor="end">10%</text>
<text x="374.8" y="159.3" font-size="14" text-anchor="end">0%</text>
<text transform="translate(341.9,96.6) rotate(-90) scale(0.93,1)" font-size="14.9" text-anchor="middle">Frequency/ (%)</text>
<g stroke="#6e6e6e" stroke-width="1" fill="none">
<path d="M54.3 412.6 V502.6 H107.7"/>
<path d="M54.3 412.6 h4"/>
<path d="M54.3 442.6 h4"/>
<path d="M54.3 472.6 h4"/>
<path d="M54.3 502.6 h4"/>
</g>
<rect x="55.2" y="488.1" width="5.0" height="14.5" fill="#213a6b"/>
<rect x="61.8" y="485" width="5.0" height="17.6" fill="#2e5597"/>
<rect x="68.5" y="470.1" width="5.0" height="32.5" fill="#a9d97e"/>
<rect x="75.1" y="433.6" width="5.0" height="69.0" fill="#8ac94f"/>
<rect x="81.7" y="428.9" width="5.0" height="73.7" fill="#e3f56b"/>
<rect x="88.3" y="451.7" width="5.0" height="50.9" fill="#f6c15e"/>
<rect x="95.0" y="475.7" width="5.0" height="26.9" fill="#ec7e30"/>
<rect x="101.6" y="489.7" width="5.0" height="12.9" fill="#c00000"/>
<text x="47.2" y="417.2" font-size="13.5" text-anchor="end">30%</text>
<text x="47.2" y="447.2" font-size="13.5" text-anchor="end">20%</text>
<text x="47.2" y="477.2" font-size="13.5" text-anchor="end">10%</text>
<text x="47.2" y="507.2" font-size="13.5" text-anchor="end">0%</text>
<text transform="translate(15.7,452.5) rotate(-90) scale(0.93,1)" font-size="14.7" text-anchor="middle">Frequency/ (%)</text>
<g stroke="#6e6e6e" stroke-width="1" fill="none">
<path d="M408.3 411.9 V504.2 H462.1"/>
<path d="M408.3 411.9 h4"/>
<path d="M408.3 442.7 h4"/>
<path d="M408.3 473.4 h4"/>
<path d="M408.3 504.2 h4"/>
</g>
<rect x="409.0" y="489.9" width="5.0" height="14.3" fill="#213a6b"/>
<rect x="415.8" y="489" width="5.0" height="15.2" fill="#2e5597"/>
<rect x="422.7" y="468.7" width="5.0" height="35.5" fill="#a9d97e"/>
<rect x="429.5" y="441.5" width="5.0" height="62.7" fill="#8ac94f"/>
<rect x="436.3" y="426.6" width="5.0" height="77.6" fill="#e3f56b"/>
<rect x="443.1" y="450.3" width="5.0" height="53.9" fill="#f6c15e"/>
<rect x="450.0" y="471" width="5.0" height="33.2" fill="#ec7e30"/>
<rect x="456.8" y="491.1" width="5.0" height="13.1" fill="#c00000"/>
<text x="400" y="416.5" font-size="13.5" text-anchor="end">30%</text>
<text x="400" y="447.3" font-size="13.5" text-anchor="end">20%</text>
<text x="400" y="478.0" font-size="13.5" text-anchor="end">10%</text>
<text x="400" y="508.8" font-size="13.5" text-anchor="end">0%</text>
<text transform="translate(370.8,451.7) rotate(-90) scale(0.93,1)" font-size="14.7" text-anchor="middle">Frequency/ (%)</text>
<text x="55.8" y="322.9" font-size="13.6">Forest age/ a</text>
<text x="387.3" y="323.5" font-size="13.8">Carbon density/ (Mg·hm<tspan font-size="11" dy="-8.8" dx="-3.5">−2</tspan><tspan dy="8.8" dx="1.6">)</tspan></text>
<text x="45.3" y="676.8" font-size="13.6">Biomass / (Mg·hm<tspan font-size="11" dy="-7.6" dx="-3.8">−2</tspan><tspan dy="7.6"> )</tspan></text>
<text x="372.6" y="674.4" font-size="13.6">Carbon stock / (Tg·10<tspan font-size="11" dy="-8.6" dx="-2.2">−2</tspan><tspan dy="8.6"> )</tspan></text>
<rect x="60.10" y="332.3" width="32.26" height="8.5" fill="#0c2570"/>
<rect x="92.06" y="332.3" width="32.26" height="8.5" fill="#1f7f8a"/>
<rect x="124.03" y="332.3" width="32.26" height="8.5" fill="#20b26a"/>
<rect x="155.99" y="332.3" width="32.26" height="8.5" fill="#22d80f"/>
<rect x="187.95" y="332.3" width="32.26" height="8.5" fill="#e0f80e"/>
<rect x="219.91" y="332.3" width="32.26" height="8.5" fill="#f2bc13"/>
<rect x="251.88" y="332.3" width="32.26" height="8.5" fill="#e5842a"/>
<rect x="283.84" y="332.3" width="32.26" height="8.5" fill="#cb553b"/>
<rect x="60.1" y="332.3" width="255.70000000000002" height="8.5" fill="none" stroke="#8a8a8a" stroke-width="0.6"/>
<text x="58.6" y="355.9" font-size="12.5" text-anchor="middle">1</text>
<text x="89.8" y="355.9" font-size="12.5" text-anchor="middle">21</text>
<text x="125.4" y="355.9" font-size="12.5" text-anchor="middle">34</text>
<text x="156" y="355.9" font-size="12.5" text-anchor="middle">41</text>
<text x="187.3" y="355.9" font-size="12.5" text-anchor="middle">51</text>
<text x="222" y="355.9" font-size="12.5" text-anchor="middle">60</text>
<text x="251.7" y="355.9" font-size="12.5" text-anchor="middle">71</text>
<text x="282.5" y="355.9" font-size="12.5" text-anchor="middle">108</text>
<rect x="391.30" y="332.8" width="33.20" height="8.5" fill="#0c2570"/>
<rect x="424.20" y="332.8" width="33.20" height="8.5" fill="#1f7f8a"/>
<rect x="457.10" y="332.8" width="33.20" height="8.5" fill="#20b26a"/>
<rect x="490.00" y="332.8" width="33.20" height="8.5" fill="#22d80f"/>
<rect x="522.90" y="332.8" width="33.20" height="8.5" fill="#e0f80e"/>
<rect x="555.80" y="332.8" width="33.20" height="8.5" fill="#f2bc13"/>
<rect x="588.70" y="332.8" width="33.20" height="8.5" fill="#e5842a"/>
<rect x="621.60" y="332.8" width="33.20" height="8.5" fill="#cb553b"/>
<rect x="391.3" y="332.8" width="263.2" height="8.5" fill="none" stroke="#8a8a8a" stroke-width="0.6"/>
<text x="394" y="356.9" font-size="12.5" text-anchor="middle">14</text>
<text x="422" y="356.9" font-size="12.5" text-anchor="middle">33</text>
<text x="458" y="356.9" font-size="12.5" text-anchor="middle">50</text>
<text x="490.4" y="356.9" font-size="12.5" text-anchor="middle">67</text>
<text x="522.8" y="356.9" font-size="12.5" text-anchor="middle">86</text>
<text x="557.6" y="356.9" font-size="12.5" text-anchor="middle">98</text>
<text x="591.3" y="356.9" font-size="12.5" text-anchor="middle">118</text>
<text x="619.4" y="356.9" font-size="12.5" text-anchor="middle">138</text>
<rect x="58.20" y="686.7" width="32.99" height="8.199999999999932" fill="#0c2570"/>
<rect x="90.89" y="686.7" width="32.99" height="8.199999999999932" fill="#1f7f8a"/>
<rect x="123.58" y="686.7" width="32.99" height="8.199999999999932" fill="#20b26a"/>
<rect x="156.26" y="686.7" width="32.99" height="8.199999999999932" fill="#22d80f"/>
<rect x="188.95" y="686.7" width="32.99" height="8.199999999999932" fill="#e0f80e"/>
<rect x="221.64" y="686.7" width="32.99" height="8.199999999999932" fill="#f2bc13"/>
<rect x="254.32" y="686.7" width="32.99" height="8.199999999999932" fill="#e5842a"/>
<rect x="287.01" y="686.7" width="32.99" height="8.199999999999932" fill="#cb553b"/>
<rect x="58.2" y="686.7" width="261.5" height="8.199999999999932" fill="none" stroke="#8a8a8a" stroke-width="0.6"/>
<text x="60" y="710.4" font-size="12.5" text-anchor="middle">28</text>
<text x="89.3" y="710.4" font-size="12.5" text-anchor="middle">66</text>
<text x="128.4" y="710.4" font-size="12.5" text-anchor="middle">100</text>
<text x="159.9" y="710.4" font-size="12.5" text-anchor="middle">134</text>
<text x="192" y="710.4" font-size="12.5" text-anchor="middle">172</text>
<text x="227" y="710.4" font-size="12.5" text-anchor="middle">196</text>
<text x="257" y="710.4" font-size="12.5" text-anchor="middle">236</text>
<text x="285.3" y="710.4" font-size="12.5" text-anchor="middle">276</text>
<rect x="411.00" y="684.6" width="33.00" height="8.299999999999955" fill="#0c2570"/>
<rect x="443.70" y="684.6" width="33.00" height="8.299999999999955" fill="#1f7f8a"/>
<rect x="476.40" y="684.6" width="33.00" height="8.299999999999955" fill="#20b26a"/>
<rect x="509.10" y="684.6" width="33.00" height="8.299999999999955" fill="#22d80f"/>
<rect x="541.80" y="684.6" width="33.00" height="8.299999999999955" fill="#e0f80e"/>
<rect x="574.50" y="684.6" width="33.00" height="8.299999999999955" fill="#f2bc13"/>
<rect x="607.20" y="684.6" width="33.00" height="8.299999999999955" fill="#e5842a"/>
<rect x="639.90" y="684.6" width="33.00" height="8.299999999999955" fill="#cb553b"/>
<rect x="411" y="684.6" width="261.6" height="8.299999999999955" fill="none" stroke="#8a8a8a" stroke-width="0.6"/>
<text x="413.1" y="710.4" font-size="12.5" text-anchor="middle">0.35</text>
<text x="442.5" y="710.4" font-size="12.5" text-anchor="middle">0.94</text>
<text x="478.7" y="710.4" font-size="12.5" text-anchor="middle">1.24</text>
<text x="510.8" y="710.4" font-size="12.5" text-anchor="middle">1.67</text>
<text x="541.8" y="710.4" font-size="12.5" text-anchor="middle">2.13</text>
<text x="577.3" y="710.4" font-size="12.5" text-anchor="middle">2.68</text>
<text x="607.8" y="710.4" font-size="12.5" text-anchor="middle">3.15</text>
<text x="636.4" y="710.4" font-size="12.5" text-anchor="middle">3.79</text>
<text x="237" y="294" font-size="11.5">0</text>
<text x="262" y="294" font-size="11.5">190</text>
<text x="281.3" y="294" font-size="11.5">Km</text>
<path d="M240.4 298.4 V306.3 H270.1 V298.4" fill="none" stroke="#7a7a7a" stroke-width="1.3"/>
<text x="572.6" y="293.5" font-size="11.5">0</text>
<text x="597.8" y="293.5" font-size="11.5">190</text>
<text x="617" y="293.5" font-size="11.5">Km</text>
<path d="M576.4 298.4 V306.1 H606.6 V298.4" fill="none" stroke="#7a7a7a" stroke-width="1.3"/>
<text x="239" y="647.3" font-size="11.5">0</text>
<text x="264" y="647.3" font-size="11.5">190</text>
<text x="284.6" y="647.3" font-size="11.5">Km</text>
<path d="M242.1 651.9 V659.4 H272.6 V651.9" fill="none" stroke="#7a7a7a" stroke-width="1.3"/>
<text x="592" y="645.4" font-size="11.5">0</text>
<text x="617.4" y="645.4" font-size="11.5">190</text>
<text x="637.2" y="645.4" font-size="11.5">Km</text>
<path d="M595.4 649.7 V657.2 H625.6 V649.7" fill="none" stroke="#7a7a7a" stroke-width="1.3"/>
<text x="304.1" y="41.9" font-size="11" style="font-family:'Liberation Sans',sans-serif" text-anchor="middle">N</text>
<path d="M304.1 44.3 L296.7 68.6 L304.1 59.4 Z" fill="#000"/>
<path d="M304.1 44.3 L311.1 68.2 L304.1 59.4 Z" fill="#fff" stroke="#000" stroke-width="1" stroke-linejoin="miter"/>
<text x="641.5" y="34.7" font-size="11" style="font-family:'Liberation Sans',sans-serif" text-anchor="middle">N</text>
<path d="M641.5 37.1 L634 62.5 L641.5 53.3 Z" fill="#000"/>
<path d="M641.5 37.1 L649.3 62.1 L641.5 53.3 Z" fill="#fff" stroke="#000" stroke-width="1" stroke-linejoin="miter"/>
<text x="307.6" y="389" font-size="11" style="font-family:'Liberation Sans',sans-serif" text-anchor="middle">N</text>
<path d="M307.4 391.6 L299.8 416.9 L307.4 407.8 Z" fill="#000"/>
<path d="M307.4 391.6 L315.3 416.6 L307.4 407.8 Z" fill="#fff" stroke="#000" stroke-width="1" stroke-linejoin="miter"/>
<text x="660.6" y="386.9" font-size="11" style="font-family:'Liberation Sans',sans-serif" text-anchor="middle">N</text>
<path d="M660.4 389.3 L653 414.6 L660.4 405.5 Z" fill="#000"/>
<path d="M660.4 389.3 L668.1 414.3 L660.4 405.5 Z" fill="#fff" stroke="#000" stroke-width="1" stroke-linejoin="miter"/>
</svg></body></html>
